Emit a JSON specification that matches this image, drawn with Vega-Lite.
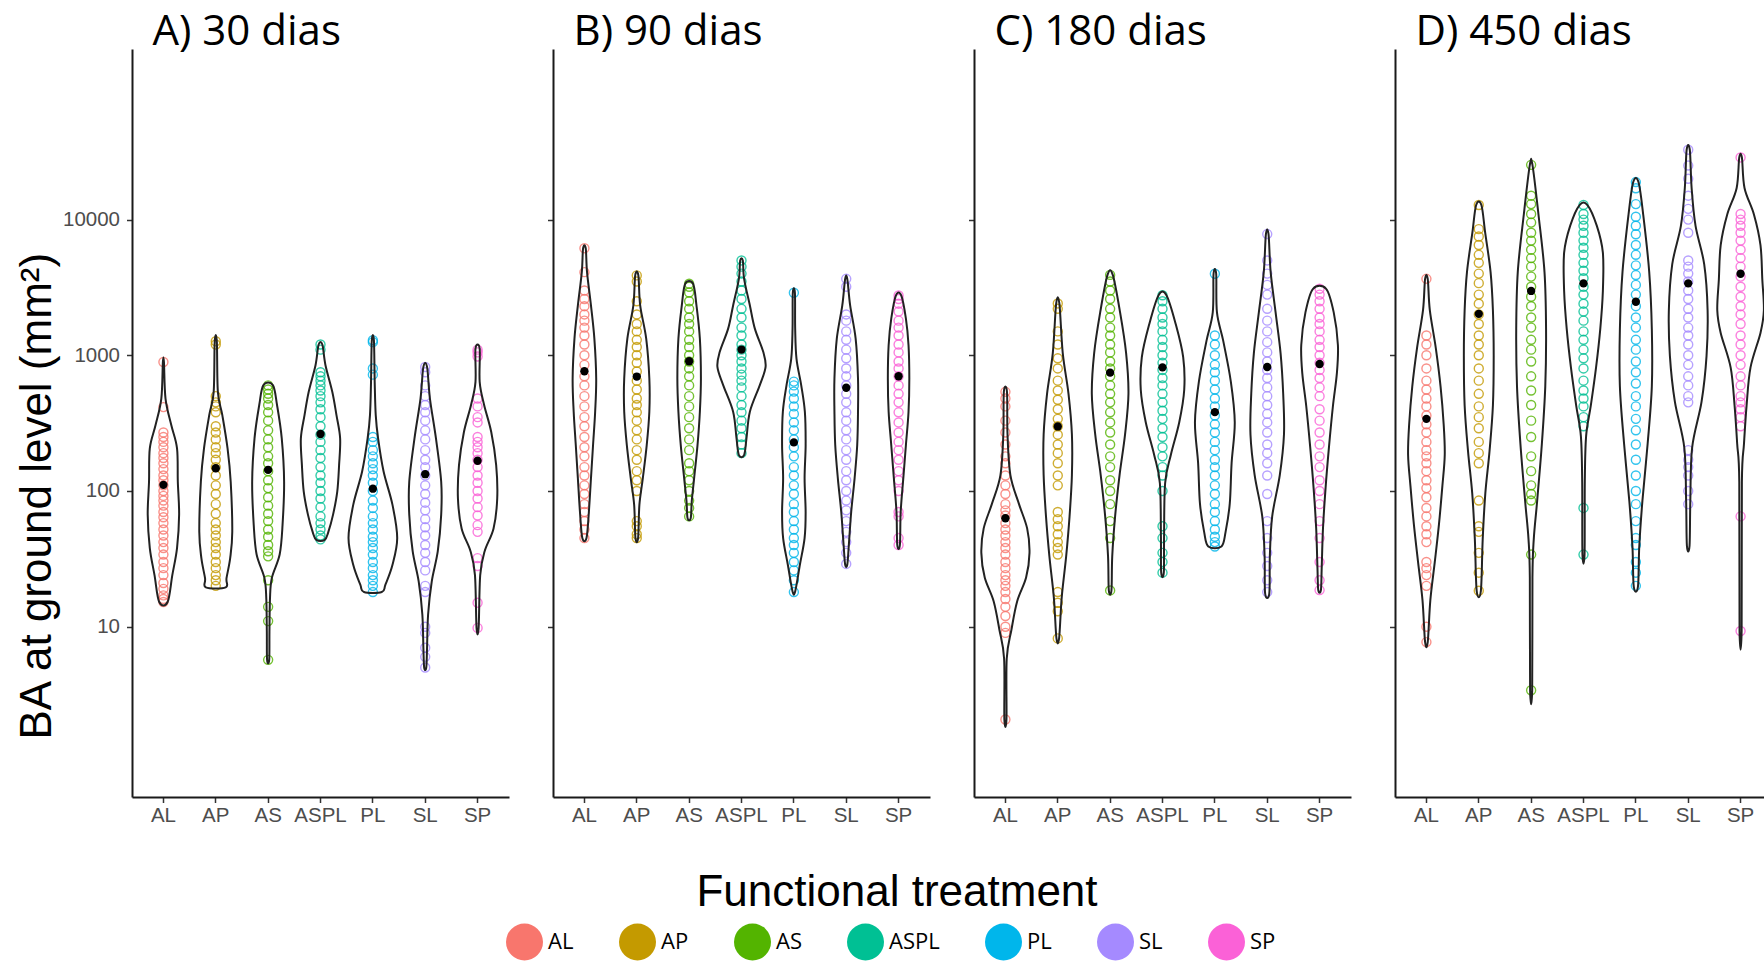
{
"$schema": "https://vega.github.io/schema/vega-lite/v6.json",
"padding": {"left": 15, "top": 11, "right": 0, "bottom": 0},
"bounds": "flush",
"spacing": 44,
"background": "white",
"config": {
  "view": {"stroke": null},
  "axis": {"grid": false, "domainColor": "#1a1a1a", "domainWidth": 2, "tickColor": "#333333", "tickWidth": 1.5, "tickSize": 5.5, "labelFont": "Liberation Sans", "labelFontSize": 20.5, "labelColor": "#4d4d4d", "titleFont": "Liberation Sans", "titleFontSize": 44, "titleFontWeight": "normal", "titleColor": "#000000"}
},
"datasets": {
"mean": [
{"p":"A","g":"AL","v":111},{"p":"A","g":"AP","v":147},{"p":"A","g":"AS","v":143},{"p":"A","g":"ASPL","v":263},{"p":"A","g":"PL","v":104},{"p":"A","g":"SL","v":133},{"p":"A","g":"SP","v":167},
{"p":"B","g":"AL","v":763},{"p":"B","g":"AP","v":697},{"p":"B","g":"AS","v":904},{"p":"B","g":"ASPL","v":1102},{"p":"B","g":"PL","v":228},{"p":"B","g":"SL","v":576},{"p":"B","g":"SP","v":701},
{"p":"C","g":"AL","v":63},{"p":"C","g":"AP","v":299},{"p":"C","g":"AS","v":745},{"p":"C","g":"ASPL","v":815},{"p":"C","g":"PL","v":381},{"p":"C","g":"SL","v":820},{"p":"C","g":"SP","v":862},
{"p":"D","g":"AL","v":340},{"p":"D","g":"AP","v":2020},{"p":"D","g":"AS","v":2980},{"p":"D","g":"ASPL","v":3390},{"p":"D","g":"PL","v":2480},{"p":"D","g":"SL","v":3390},{"p":"D","g":"SP","v":3990}
],
"vio": [
{"p":"A","g":"AL","v":15.2,"w":0.16},{"p":"A","g":"AL","v":24,"w":0.34},{"p":"A","g":"AL","v":38,"w":0.52},{"p":"A","g":"AL","v":67,"w":0.60},{"p":"A","g":"AL","v":117,"w":0.55},{"p":"A","g":"AL","v":206,"w":0.52},{"p":"A","g":"AL","v":306,"w":0.30},{"p":"A","g":"AL","v":480,"w":0.08},{"p":"A","g":"AL","v":893,"w":0.02},
{"p":"A","g":"AL","v":893,"w":-0.02},{"p":"A","g":"AL","v":480,"w":-0.08},{"p":"A","g":"AL","v":306,"w":-0.30},{"p":"A","g":"AL","v":206,"w":-0.52},{"p":"A","g":"AL","v":117,"w":-0.55},{"p":"A","g":"AL","v":67,"w":-0.60},{"p":"A","g":"AL","v":38,"w":-0.52},{"p":"A","g":"AL","v":24,"w":-0.34},{"p":"A","g":"AL","v":15.2,"w":-0.16},
{"p":"A","g":"AP","v":19.5,"w":0.38},{"p":"A","g":"AP","v":22.8,"w":0.41},{"p":"A","g":"AP","v":32,"w":0.55},{"p":"A","g":"AP","v":50,"w":0.63},{"p":"A","g":"AP","v":117,"w":0.57},{"p":"A","g":"AP","v":206,"w":0.45},{"p":"A","g":"AP","v":362,"w":0.25},{"p":"A","g":"AP","v":538,"w":0.08},{"p":"A","g":"AP","v":1268,"w":0.04},
{"p":"A","g":"AP","v":1268,"w":-0.04},{"p":"A","g":"AP","v":538,"w":-0.08},{"p":"A","g":"AP","v":362,"w":-0.25},{"p":"A","g":"AP","v":206,"w":-0.45},{"p":"A","g":"AP","v":117,"w":-0.57},{"p":"A","g":"AP","v":50,"w":-0.63},{"p":"A","g":"AP","v":32,"w":-0.55},{"p":"A","g":"AP","v":22.8,"w":-0.41},{"p":"A","g":"AP","v":19.5,"w":-0.38},
{"p":"A","g":"AS","v":5.7,"w":0.04},{"p":"A","g":"AS","v":9.2,"w":0.05},{"p":"A","g":"AS","v":16,"w":0.07},{"p":"A","g":"AS","v":22.8,"w":0.14},{"p":"A","g":"AS","v":34,"w":0.44},{"p":"A","g":"AS","v":56,"w":0.55},{"p":"A","g":"AS","v":117,"w":0.61},{"p":"A","g":"AS","v":244,"w":0.52},{"p":"A","g":"AS","v":430,"w":0.34},{"p":"A","g":"AS","v":603,"w":0.18},
{"p":"A","g":"AS","v":603,"w":-0.18},{"p":"A","g":"AS","v":430,"w":-0.34},{"p":"A","g":"AS","v":244,"w":-0.52},{"p":"A","g":"AS","v":117,"w":-0.61},{"p":"A","g":"AS","v":56,"w":-0.55},{"p":"A","g":"AS","v":34,"w":-0.44},{"p":"A","g":"AS","v":22.8,"w":-0.14},{"p":"A","g":"AS","v":16,"w":-0.07},{"p":"A","g":"AS","v":9.2,"w":-0.05},{"p":"A","g":"AS","v":5.7,"w":-0.04},
{"p":"A","g":"ASPL","v":43.6,"w":0.16},{"p":"A","g":"ASPL","v":50,"w":0.30},{"p":"A","g":"ASPL","v":67,"w":0.48},{"p":"A","g":"ASPL","v":99,"w":0.64},{"p":"A","g":"ASPL","v":155,"w":0.71},{"p":"A","g":"ASPL","v":244,"w":0.75},{"p":"A","g":"ASPL","v":362,"w":0.61},{"p":"A","g":"ASPL","v":538,"w":0.45},{"p":"A","g":"ASPL","v":845,"w":0.19},{"p":"A","g":"ASPL","v":1200,"w":0.07},
{"p":"A","g":"ASPL","v":1200,"w":-0.07},{"p":"A","g":"ASPL","v":845,"w":-0.19},{"p":"A","g":"ASPL","v":538,"w":-0.45},{"p":"A","g":"ASPL","v":362,"w":-0.61},{"p":"A","g":"ASPL","v":244,"w":-0.75},{"p":"A","g":"ASPL","v":155,"w":-0.71},{"p":"A","g":"ASPL","v":99,"w":-0.64},{"p":"A","g":"ASPL","v":67,"w":-0.48},{"p":"A","g":"ASPL","v":50,"w":-0.30},{"p":"A","g":"ASPL","v":43.6,"w":-0.16},
{"p":"A","g":"PL","v":18,"w":0.34},{"p":"A","g":"PL","v":20.4,"w":0.48},{"p":"A","g":"PL","v":28.6,"w":0.75},{"p":"A","g":"PL","v":45,"w":0.93},{"p":"A","g":"PL","v":79,"w":0.75},{"p":"A","g":"PL","v":139,"w":0.41},{"p":"A","g":"PL","v":244,"w":0.20},{"p":"A","g":"PL","v":362,"w":0.11},{"p":"A","g":"PL","v":637,"w":0.07},{"p":"A","g":"PL","v":1290,"w":0.04},
{"p":"A","g":"PL","v":1290,"w":-0.04},{"p":"A","g":"PL","v":637,"w":-0.07},{"p":"A","g":"PL","v":362,"w":-0.11},{"p":"A","g":"PL","v":244,"w":-0.20},{"p":"A","g":"PL","v":139,"w":-0.41},{"p":"A","g":"PL","v":79,"w":-0.75},{"p":"A","g":"PL","v":45,"w":-0.93},{"p":"A","g":"PL","v":28.6,"w":-0.75},{"p":"A","g":"PL","v":20.4,"w":-0.48},{"p":"A","g":"PL","v":18,"w":-0.34},
{"p":"A","g":"SL","v":5,"w":0.04},{"p":"A","g":"SL","v":7,"w":0.07},{"p":"A","g":"SL","v":12.3,"w":0.11},{"p":"A","g":"SL","v":21.6,"w":0.25},{"p":"A","g":"SL","v":36,"w":0.48},{"p":"A","g":"SL","v":67,"w":0.61},{"p":"A","g":"SL","v":117,"w":0.61},{"p":"A","g":"SL","v":244,"w":0.41},{"p":"A","g":"SL","v":480,"w":0.18},{"p":"A","g":"SL","v":821,"w":0.07},
{"p":"A","g":"SL","v":821,"w":-0.07},{"p":"A","g":"SL","v":480,"w":-0.18},{"p":"A","g":"SL","v":244,"w":-0.41},{"p":"A","g":"SL","v":117,"w":-0.61},{"p":"A","g":"SL","v":67,"w":-0.61},{"p":"A","g":"SL","v":36,"w":-0.48},{"p":"A","g":"SL","v":21.6,"w":-0.25},{"p":"A","g":"SL","v":12.3,"w":-0.11},{"p":"A","g":"SL","v":7,"w":-0.07},{"p":"A","g":"SL","v":5,"w":-0.04},
{"p":"A","g":"SP","v":9.8,"w":0.04},{"p":"A","g":"SP","v":24,"w":0.10},{"p":"A","g":"SP","v":36,"w":0.27},{"p":"A","g":"SP","v":53,"w":0.61},{"p":"A","g":"SP","v":88,"w":0.75},{"p":"A","g":"SP","v":155,"w":0.71},{"p":"A","g":"SP","v":273,"w":0.52},{"p":"A","g":"SP","v":430,"w":0.25},{"p":"A","g":"SP","v":637,"w":0.08},{"p":"A","g":"SP","v":1120,"w":0.08},
{"p":"A","g":"SP","v":1120,"w":-0.08},{"p":"A","g":"SP","v":637,"w":-0.08},{"p":"A","g":"SP","v":430,"w":-0.25},{"p":"A","g":"SP","v":273,"w":-0.52},{"p":"A","g":"SP","v":155,"w":-0.71},{"p":"A","g":"SP","v":88,"w":-0.75},{"p":"A","g":"SP","v":53,"w":-0.61},{"p":"A","g":"SP","v":36,"w":-0.27},{"p":"A","g":"SP","v":24,"w":-0.10},{"p":"A","g":"SP","v":9.8,"w":-0.04},

{"p":"B","g":"AL","v":45,"w":0.08},{"p":"B","g":"AL","v":70,"w":0.17},{"p":"B","g":"AL","v":124,"w":0.25},{"p":"B","g":"AL","v":218,"w":0.33},{"p":"B","g":"AL","v":384,"w":0.41},{"p":"B","g":"AL","v":675,"w":0.45},{"p":"B","g":"AL","v":1326,"w":0.38},{"p":"B","g":"AL","v":2330,"w":0.25},{"p":"B","g":"AL","v":4100,"w":0.10},{"p":"B","g":"AL","v":6150,"w":0.05},
{"p":"B","g":"AL","v":6150,"w":-0.05},{"p":"B","g":"AL","v":4100,"w":-0.10},{"p":"B","g":"AL","v":2330,"w":-0.25},{"p":"B","g":"AL","v":1326,"w":-0.38},{"p":"B","g":"AL","v":675,"w":-0.45},{"p":"B","g":"AL","v":384,"w":-0.41},{"p":"B","g":"AL","v":218,"w":-0.33},{"p":"B","g":"AL","v":124,"w":-0.25},{"p":"B","g":"AL","v":70,"w":-0.17},{"p":"B","g":"AL","v":45,"w":-0.08},
{"p":"B","g":"AP","v":45,"w":0.05},{"p":"B","g":"AP","v":79,"w":0.10},{"p":"B","g":"AP","v":124,"w":0.23},{"p":"B","g":"AP","v":218,"w":0.38},{"p":"B","g":"AP","v":384,"w":0.48},{"p":"B","g":"AP","v":675,"w":0.48},{"p":"B","g":"AP","v":1326,"w":0.36},{"p":"B","g":"AP","v":2330,"w":0.13},{"p":"B","g":"AP","v":3880,"w":0.06},
{"p":"B","g":"AP","v":3880,"w":-0.06},{"p":"B","g":"AP","v":2330,"w":-0.13},{"p":"B","g":"AP","v":1326,"w":-0.36},{"p":"B","g":"AP","v":675,"w":-0.48},{"p":"B","g":"AP","v":384,"w":-0.48},{"p":"B","g":"AP","v":218,"w":-0.38},{"p":"B","g":"AP","v":124,"w":-0.23},{"p":"B","g":"AP","v":79,"w":-0.10},{"p":"B","g":"AP","v":45,"w":-0.05},
{"p":"B","g":"AS","v":63,"w":0.06},{"p":"B","g":"AS","v":84,"w":0.10},{"p":"B","g":"AS","v":124,"w":0.19},{"p":"B","g":"AS","v":218,"w":0.32},{"p":"B","g":"AS","v":384,"w":0.41},{"p":"B","g":"AS","v":675,"w":0.45},{"p":"B","g":"AS","v":1326,"w":0.41},{"p":"B","g":"AS","v":2330,"w":0.28},{"p":"B","g":"AS","v":3370,"w":0.15},
{"p":"B","g":"AS","v":3370,"w":-0.15},{"p":"B","g":"AS","v":2330,"w":-0.28},{"p":"B","g":"AS","v":1326,"w":-0.41},{"p":"B","g":"AS","v":675,"w":-0.45},{"p":"B","g":"AS","v":384,"w":-0.41},{"p":"B","g":"AS","v":218,"w":-0.32},{"p":"B","g":"AS","v":124,"w":-0.19},{"p":"B","g":"AS","v":84,"w":-0.10},{"p":"B","g":"AS","v":63,"w":-0.06},
{"p":"B","g":"ASPL","v":184,"w":0.10},{"p":"B","g":"ASPL","v":244,"w":0.19},{"p":"B","g":"ASPL","v":384,"w":0.32},{"p":"B","g":"ASPL","v":603,"w":0.70},{"p":"B","g":"ASPL","v":821,"w":0.92},{"p":"B","g":"ASPL","v":1060,"w":0.83},{"p":"B","g":"ASPL","v":1572,"w":0.51},{"p":"B","g":"ASPL","v":2330,"w":0.32},{"p":"B","g":"ASPL","v":3660,"w":0.10},{"p":"B","g":"ASPL","v":5000,"w":0.05},
{"p":"B","g":"ASPL","v":5000,"w":-0.05},{"p":"B","g":"ASPL","v":3660,"w":-0.10},{"p":"B","g":"ASPL","v":2330,"w":-0.32},{"p":"B","g":"ASPL","v":1572,"w":-0.51},{"p":"B","g":"ASPL","v":1060,"w":-0.83},{"p":"B","g":"ASPL","v":821,"w":-0.92},{"p":"B","g":"ASPL","v":603,"w":-0.70},{"p":"B","g":"ASPL","v":384,"w":-0.32},{"p":"B","g":"ASPL","v":244,"w":-0.19},{"p":"B","g":"ASPL","v":184,"w":-0.10},
{"p":"B","g":"PL","v":18.2,"w":0.05},{"p":"B","g":"PL","v":28.6,"w":0.23},{"p":"B","g":"PL","v":45,"w":0.41},{"p":"B","g":"PL","v":70,"w":0.45},{"p":"B","g":"PL","v":124,"w":0.41},{"p":"B","g":"PL","v":218,"w":0.45},{"p":"B","g":"PL","v":384,"w":0.42},{"p":"B","g":"PL","v":603,"w":0.28},{"p":"B","g":"PL","v":945,"w":0.10},{"p":"B","g":"PL","v":1572,"w":0.05},{"p":"B","g":"PL","v":2890,"w":0.04},
{"p":"B","g":"PL","v":2890,"w":-0.04},{"p":"B","g":"PL","v":1572,"w":-0.05},{"p":"B","g":"PL","v":945,"w":-0.10},{"p":"B","g":"PL","v":603,"w":-0.28},{"p":"B","g":"PL","v":384,"w":-0.42},{"p":"B","g":"PL","v":218,"w":-0.45},{"p":"B","g":"PL","v":124,"w":-0.41},{"p":"B","g":"PL","v":70,"w":-0.45},{"p":"B","g":"PL","v":45,"w":-0.41},{"p":"B","g":"PL","v":28.6,"w":-0.23},{"p":"B","g":"PL","v":18.2,"w":-0.05},
{"p":"B","g":"SL","v":28.6,"w":0.04},{"p":"B","g":"SL","v":40,"w":0.10},{"p":"B","g":"SL","v":70,"w":0.19},{"p":"B","g":"SL","v":124,"w":0.32},{"p":"B","g":"SL","v":218,"w":0.42},{"p":"B","g":"SL","v":384,"w":0.45},{"p":"B","g":"SL","v":675,"w":0.45},{"p":"B","g":"SL","v":1326,"w":0.36},{"p":"B","g":"SL","v":2330,"w":0.15},{"p":"B","g":"SL","v":3660,"w":0.04},
{"p":"B","g":"SL","v":3660,"w":-0.04},{"p":"B","g":"SL","v":2330,"w":-0.15},{"p":"B","g":"SL","v":1326,"w":-0.36},{"p":"B","g":"SL","v":675,"w":-0.45},{"p":"B","g":"SL","v":384,"w":-0.45},{"p":"B","g":"SL","v":218,"w":-0.42},{"p":"B","g":"SL","v":124,"w":-0.32},{"p":"B","g":"SL","v":70,"w":-0.19},{"p":"B","g":"SL","v":40,"w":-0.10},{"p":"B","g":"SL","v":28.6,"w":-0.04},
{"p":"B","g":"SP","v":40,"w":0.05},{"p":"B","g":"SP","v":70,"w":0.08},{"p":"B","g":"SP","v":124,"w":0.18},{"p":"B","g":"SP","v":218,"w":0.28},{"p":"B","g":"SP","v":384,"w":0.38},{"p":"B","g":"SP","v":675,"w":0.41},{"p":"B","g":"SP","v":1186,"w":0.38},{"p":"B","g":"SP","v":1862,"w":0.28},{"p":"B","g":"SP","v":2760,"w":0.10},
{"p":"B","g":"SP","v":2760,"w":-0.10},{"p":"B","g":"SP","v":1862,"w":-0.28},{"p":"B","g":"SP","v":1186,"w":-0.38},{"p":"B","g":"SP","v":675,"w":-0.41},{"p":"B","g":"SP","v":384,"w":-0.38},{"p":"B","g":"SP","v":218,"w":-0.28},{"p":"B","g":"SP","v":124,"w":-0.18},{"p":"B","g":"SP","v":70,"w":-0.08},{"p":"B","g":"SP","v":40,"w":-0.05},

{"p":"C","g":"AL","v":2.07,"w":0.04},{"p":"C","g":"AL","v":5.8,"w":0.05},{"p":"C","g":"AL","v":9.5,"w":0.23},{"p":"C","g":"AL","v":15.4,"w":0.45},{"p":"C","g":"AL","v":23,"w":0.79},{"p":"C","g":"AL","v":35,"w":0.92},{"p":"C","g":"AL","v":53,"w":0.83},{"p":"C","g":"AL","v":81,"w":0.51},{"p":"C","g":"AL","v":131,"w":0.19},{"p":"C","g":"AL","v":261,"w":0.08},{"p":"C","g":"AL","v":538,"w":0.06},
{"p":"C","g":"AL","v":538,"w":-0.06},{"p":"C","g":"AL","v":261,"w":-0.08},{"p":"C","g":"AL","v":131,"w":-0.19},{"p":"C","g":"AL","v":81,"w":-0.51},{"p":"C","g":"AL","v":53,"w":-0.83},{"p":"C","g":"AL","v":35,"w":-0.92},{"p":"C","g":"AL","v":23,"w":-0.79},{"p":"C","g":"AL","v":15.4,"w":-0.45},{"p":"C","g":"AL","v":9.5,"w":-0.23},{"p":"C","g":"AL","v":5.8,"w":-0.05},{"p":"C","g":"AL","v":2.07,"w":-0.04},
{"p":"C","g":"AP","v":8.2,"w":0.05},{"p":"C","g":"AP","v":16.4,"w":0.15},{"p":"C","g":"AP","v":33,"w":0.32},{"p":"C","g":"AP","v":65,"w":0.45},{"p":"C","g":"AP","v":131,"w":0.54},{"p":"C","g":"AP","v":261,"w":0.54},{"p":"C","g":"AP","v":520,"w":0.41},{"p":"C","g":"AP","v":1038,"w":0.19},{"p":"C","g":"AP","v":2410,"w":0.06},
{"p":"C","g":"AP","v":2410,"w":-0.06},{"p":"C","g":"AP","v":1038,"w":-0.19},{"p":"C","g":"AP","v":520,"w":-0.41},{"p":"C","g":"AP","v":261,"w":-0.54},{"p":"C","g":"AP","v":131,"w":-0.54},{"p":"C","g":"AP","v":65,"w":-0.45},{"p":"C","g":"AP","v":33,"w":-0.32},{"p":"C","g":"AP","v":16.4,"w":-0.15},{"p":"C","g":"AP","v":8.2,"w":-0.05},
{"p":"C","g":"AS","v":18.5,"w":0.05},{"p":"C","g":"AS","v":33,"w":0.08},{"p":"C","g":"AS","v":65,"w":0.19},{"p":"C","g":"AS","v":131,"w":0.36},{"p":"C","g":"AS","v":261,"w":0.57},{"p":"C","g":"AS","v":520,"w":0.70},{"p":"C","g":"AS","v":1038,"w":0.61},{"p":"C","g":"AS","v":2070,"w":0.38},{"p":"C","g":"AS","v":3910,"w":0.10},
{"p":"C","g":"AS","v":3910,"w":-0.10},{"p":"C","g":"AS","v":2070,"w":-0.38},{"p":"C","g":"AS","v":1038,"w":-0.61},{"p":"C","g":"AS","v":520,"w":-0.70},{"p":"C","g":"AS","v":261,"w":-0.57},{"p":"C","g":"AS","v":131,"w":-0.36},{"p":"C","g":"AS","v":65,"w":-0.19},{"p":"C","g":"AS","v":33,"w":-0.08},{"p":"C","g":"AS","v":18.5,"w":-0.05},
{"p":"C","g":"ASPL","v":25,"w":0.05},{"p":"C","g":"ASPL","v":46,"w":0.06},{"p":"C","g":"ASPL","v":114,"w":0.10},{"p":"C","g":"ASPL","v":185,"w":0.32},{"p":"C","g":"ASPL","v":321,"w":0.64},{"p":"C","g":"ASPL","v":557,"w":0.83},{"p":"C","g":"ASPL","v":969,"w":0.79},{"p":"C","g":"ASPL","v":1683,"w":0.51},{"p":"C","g":"ASPL","v":2770,"w":0.15},
{"p":"C","g":"ASPL","v":2770,"w":-0.15},{"p":"C","g":"ASPL","v":1683,"w":-0.51},{"p":"C","g":"ASPL","v":969,"w":-0.79},{"p":"C","g":"ASPL","v":557,"w":-0.83},{"p":"C","g":"ASPL","v":321,"w":-0.64},{"p":"C","g":"ASPL","v":185,"w":-0.32},{"p":"C","g":"ASPL","v":114,"w":-0.10},{"p":"C","g":"ASPL","v":46,"w":-0.06},{"p":"C","g":"ASPL","v":25,"w":-0.05},
{"p":"C","g":"PL","v":39,"w":0.25},{"p":"C","g":"PL","v":50,"w":0.41},{"p":"C","g":"PL","v":81,"w":0.57},{"p":"C","g":"PL","v":161,"w":0.64},{"p":"C","g":"PL","v":321,"w":0.76},{"p":"C","g":"PL","v":640,"w":0.61},{"p":"C","g":"PL","v":1276,"w":0.32},{"p":"C","g":"PL","v":2070,"w":0.08},{"p":"C","g":"PL","v":3990,"w":0.05},
{"p":"C","g":"PL","v":3990,"w":-0.05},{"p":"C","g":"PL","v":2070,"w":-0.08},{"p":"C","g":"PL","v":1276,"w":-0.32},{"p":"C","g":"PL","v":640,"w":-0.61},{"p":"C","g":"PL","v":321,"w":-0.76},{"p":"C","g":"PL","v":161,"w":-0.64},{"p":"C","g":"PL","v":81,"w":-0.57},{"p":"C","g":"PL","v":50,"w":-0.41},{"p":"C","g":"PL","v":39,"w":-0.25},
{"p":"C","g":"SL","v":17.6,"w":0.08},{"p":"C","g":"SL","v":33,"w":0.10},{"p":"C","g":"SL","v":65,"w":0.19},{"p":"C","g":"SL","v":131,"w":0.48},{"p":"C","g":"SL","v":261,"w":0.64},{"p":"C","g":"SL","v":520,"w":0.61},{"p":"C","g":"SL","v":1038,"w":0.51},{"p":"C","g":"SL","v":2070,"w":0.32},{"p":"C","g":"SL","v":4140,"w":0.13},{"p":"C","g":"SL","v":7820,"w":0.05},
{"p":"C","g":"SL","v":7820,"w":-0.05},{"p":"C","g":"SL","v":4140,"w":-0.13},{"p":"C","g":"SL","v":2070,"w":-0.32},{"p":"C","g":"SL","v":1038,"w":-0.51},{"p":"C","g":"SL","v":520,"w":-0.61},{"p":"C","g":"SL","v":261,"w":-0.64},{"p":"C","g":"SL","v":131,"w":-0.48},{"p":"C","g":"SL","v":65,"w":-0.19},{"p":"C","g":"SL","v":33,"w":-0.10},{"p":"C","g":"SL","v":17.6,"w":-0.08},
{"p":"C","g":"SP","v":18.6,"w":0.05},{"p":"C","g":"SP","v":26.7,"w":0.08},{"p":"C","g":"SP","v":53,"w":0.13},{"p":"C","g":"SP","v":106,"w":0.23},{"p":"C","g":"SP","v":212,"w":0.36},{"p":"C","g":"SP","v":423,"w":0.51},{"p":"C","g":"SP","v":735,"w":0.66},{"p":"C","g":"SP","v":1191,"w":0.70},{"p":"C","g":"SP","v":2070,"w":0.54},{"p":"C","g":"SP","v":3090,"w":0.25},
{"p":"C","g":"SP","v":3090,"w":-0.25},{"p":"C","g":"SP","v":2070,"w":-0.54},{"p":"C","g":"SP","v":1191,"w":-0.70},{"p":"C","g":"SP","v":735,"w":-0.66},{"p":"C","g":"SP","v":423,"w":-0.51},{"p":"C","g":"SP","v":212,"w":-0.36},{"p":"C","g":"SP","v":106,"w":-0.23},{"p":"C","g":"SP","v":53,"w":-0.13},{"p":"C","g":"SP","v":26.7,"w":-0.08},{"p":"C","g":"SP","v":18.6,"w":-0.05},

{"p":"D","g":"AL","v":7.7,"w":0.05},{"p":"D","g":"AL","v":15.7,"w":0.15},{"p":"D","g":"AL","v":30,"w":0.32},{"p":"D","g":"AL","v":57,"w":0.48},{"p":"D","g":"AL","v":109,"w":0.61},{"p":"D","g":"AL","v":184,"w":0.70},{"p":"D","g":"AL","v":308,"w":0.66},{"p":"D","g":"AL","v":590,"w":0.54},{"p":"D","g":"AL","v":1126,"w":0.36},{"p":"D","g":"AL","v":2150,"w":0.13},{"p":"D","g":"AL","v":3660,"w":0.05},
{"p":"D","g":"AL","v":3660,"w":-0.05},{"p":"D","g":"AL","v":2150,"w":-0.13},{"p":"D","g":"AL","v":1126,"w":-0.36},{"p":"D","g":"AL","v":590,"w":-0.54},{"p":"D","g":"AL","v":308,"w":-0.66},{"p":"D","g":"AL","v":184,"w":-0.70},{"p":"D","g":"AL","v":109,"w":-0.61},{"p":"D","g":"AL","v":57,"w":-0.48},{"p":"D","g":"AL","v":30,"w":-0.32},{"p":"D","g":"AL","v":15.7,"w":-0.15},{"p":"D","g":"AL","v":7.7,"w":-0.05},
{"p":"D","g":"AP","v":18.4,"w":0.08},{"p":"D","g":"AP","v":44,"w":0.15},{"p":"D","g":"AP","v":96,"w":0.25},{"p":"D","g":"AP","v":196,"w":0.41},{"p":"D","g":"AP","v":427,"w":0.54},{"p":"D","g":"AP","v":991,"w":0.57},{"p":"D","g":"AP","v":2150,"w":0.54},{"p":"D","g":"AP","v":4120,"w":0.45},{"p":"D","g":"AP","v":7870,"w":0.25},{"p":"D","g":"AP","v":12800,"w":0.10},
{"p":"D","g":"AP","v":12800,"w":-0.10},{"p":"D","g":"AP","v":7870,"w":-0.25},{"p":"D","g":"AP","v":4120,"w":-0.45},{"p":"D","g":"AP","v":2150,"w":-0.54},{"p":"D","g":"AP","v":991,"w":-0.57},{"p":"D","g":"AP","v":427,"w":-0.54},{"p":"D","g":"AP","v":196,"w":-0.41},{"p":"D","g":"AP","v":96,"w":-0.25},{"p":"D","g":"AP","v":44,"w":-0.15},{"p":"D","g":"AP","v":18.4,"w":-0.08},
{"p":"D","g":"AS","v":3.4,"w":0.04},{"p":"D","g":"AS","v":23,"w":0.05},{"p":"D","g":"AS","v":44,"w":0.10},{"p":"D","g":"AS","v":84.5,"w":0.23},{"p":"D","g":"AS","v":223,"w":0.41},{"p":"D","g":"AS","v":590,"w":0.54},{"p":"D","g":"AS","v":1560,"w":0.57},{"p":"D","g":"AS","v":4120,"w":0.51},{"p":"D","g":"AS","v":10900,"w":0.28},{"p":"D","g":"AS","v":25300,"w":0.05},
{"p":"D","g":"AS","v":25300,"w":-0.05},{"p":"D","g":"AS","v":10900,"w":-0.28},{"p":"D","g":"AS","v":4120,"w":-0.51},{"p":"D","g":"AS","v":1560,"w":-0.57},{"p":"D","g":"AS","v":590,"w":-0.54},{"p":"D","g":"AS","v":223,"w":-0.41},{"p":"D","g":"AS","v":84.5,"w":-0.23},{"p":"D","g":"AS","v":44,"w":-0.10},{"p":"D","g":"AS","v":23,"w":-0.05},{"p":"D","g":"AS","v":3.4,"w":-0.04},
{"p":"D","g":"ASPL","v":34,"w":0.04},{"p":"D","g":"ASPL","v":117,"w":0.05},{"p":"D","g":"ASPL","v":254,"w":0.10},{"p":"D","g":"ASPL","v":427,"w":0.28},{"p":"D","g":"ASPL","v":815,"w":0.48},{"p":"D","g":"ASPL","v":1560,"w":0.64},{"p":"D","g":"ASPL","v":2980,"w":0.74},{"p":"D","g":"ASPL","v":5700,"w":0.74},{"p":"D","g":"ASPL","v":8980,"w":0.51},{"p":"D","g":"ASPL","v":12800,"w":0.15},
{"p":"D","g":"ASPL","v":12800,"w":-0.15},{"p":"D","g":"ASPL","v":8980,"w":-0.51},{"p":"D","g":"ASPL","v":5700,"w":-0.74},{"p":"D","g":"ASPL","v":2980,"w":-0.74},{"p":"D","g":"ASPL","v":1560,"w":-0.64},{"p":"D","g":"ASPL","v":815,"w":-0.48},{"p":"D","g":"ASPL","v":427,"w":-0.28},{"p":"D","g":"ASPL","v":254,"w":-0.10},{"p":"D","g":"ASPL","v":117,"w":-0.05},{"p":"D","g":"ASPL","v":34,"w":-0.04},
{"p":"D","g":"PL","v":19.7,"w":0.08},{"p":"D","g":"PL","v":38.8,"w":0.13},{"p":"D","g":"PL","v":84.5,"w":0.25},{"p":"D","g":"PL","v":223,"w":0.45},{"p":"D","g":"PL","v":590,"w":0.61},{"p":"D","g":"PL","v":1560,"w":0.61},{"p":"D","g":"PL","v":4120,"w":0.51},{"p":"D","g":"PL","v":10900,"w":0.28},{"p":"D","g":"PL","v":18900,"w":0.10},
{"p":"D","g":"PL","v":18900,"w":-0.10},{"p":"D","g":"PL","v":10900,"w":-0.28},{"p":"D","g":"PL","v":4120,"w":-0.51},{"p":"D","g":"PL","v":1560,"w":-0.61},{"p":"D","g":"PL","v":590,"w":-0.61},{"p":"D","g":"PL","v":223,"w":-0.45},{"p":"D","g":"PL","v":84.5,"w":-0.25},{"p":"D","g":"PL","v":38.8,"w":-0.13},{"p":"D","g":"PL","v":19.7,"w":-0.08},
{"p":"D","g":"SL","v":39.4,"w":0.05},{"p":"D","g":"SL","v":84.5,"w":0.08},{"p":"D","g":"SL","v":209,"w":0.15},{"p":"D","g":"SL","v":455,"w":0.51},{"p":"D","g":"SL","v":991,"w":0.70},{"p":"D","g":"SL","v":2150,"w":0.74},{"p":"D","g":"SL","v":4690,"w":0.61},{"p":"D","g":"SL","v":8980,"w":0.28},{"p":"D","g":"SL","v":17100,"w":0.13},{"p":"D","g":"SL","v":32700,"w":0.06},
{"p":"D","g":"SL","v":32700,"w":-0.06},{"p":"D","g":"SL","v":17100,"w":-0.13},{"p":"D","g":"SL","v":8980,"w":-0.28},{"p":"D","g":"SL","v":4690,"w":-0.61},{"p":"D","g":"SL","v":2150,"w":-0.74},{"p":"D","g":"SL","v":991,"w":-0.70},{"p":"D","g":"SL","v":455,"w":-0.51},{"p":"D","g":"SL","v":209,"w":-0.15},{"p":"D","g":"SL","v":84.5,"w":-0.08},{"p":"D","g":"SL","v":39.4,"w":-0.05},
{"p":"D","g":"SP","v":9.3,"w":0.04},{"p":"D","g":"SP","v":117,"w":0.05},{"p":"D","g":"SP","v":223,"w":0.13},{"p":"D","g":"SP","v":427,"w":0.23},{"p":"D","g":"SP","v":815,"w":0.38},{"p":"D","g":"SP","v":1462,"w":0.76},{"p":"D","g":"SP","v":2150,"w":0.89},{"p":"D","g":"SP","v":3620,"w":0.83},{"p":"D","g":"SP","v":6480,"w":0.76},{"p":"D","g":"SP","v":10900,"w":0.51},{"p":"D","g":"SP","v":17100,"w":0.15},{"p":"D","g":"SP","v":28700,"w":0.05},
{"p":"D","g":"SP","v":28700,"w":-0.05},{"p":"D","g":"SP","v":17100,"w":-0.15},{"p":"D","g":"SP","v":10900,"w":-0.51},{"p":"D","g":"SP","v":6480,"w":-0.76},{"p":"D","g":"SP","v":3620,"w":-0.83},{"p":"D","g":"SP","v":2150,"w":-0.89},{"p":"D","g":"SP","v":1462,"w":-0.76},{"p":"D","g":"SP","v":815,"w":-0.38},{"p":"D","g":"SP","v":427,"w":-0.23},{"p":"D","g":"SP","v":223,"w":-0.13},{"p":"D","g":"SP","v":117,"w":-0.05},{"p":"D","g":"SP","v":9.3,"w":-0.04}
],
"pts": [
{"p":"A","g":"AL","v":893},{"p":"A","g":"AL","v":415},{"p":"A","g":"AL","v":270},{"p":"A","g":"AL","v":250},{"p":"A","g":"AL","v":230},{"p":"A","g":"AL","v":210},{"p":"A","g":"AL","v":190},{"p":"A","g":"AL","v":175},{"p":"A","g":"AL","v":160},{"p":"A","g":"AL","v":145},{"p":"A","g":"AL","v":130},{"p":"A","g":"AL","v":120},{"p":"A","g":"AL","v":110},{"p":"A","g":"AL","v":100},{"p":"A","g":"AL","v":92},{"p":"A","g":"AL","v":85},{"p":"A","g":"AL","v":78},{"p":"A","g":"AL","v":70},{"p":"A","g":"AL","v":64},{"p":"A","g":"AL","v":58},{"p":"A","g":"AL","v":52},{"p":"A","g":"AL","v":47},{"p":"A","g":"AL","v":42},{"p":"A","g":"AL","v":38},{"p":"A","g":"AL","v":34},{"p":"A","g":"AL","v":30},{"p":"A","g":"AL","v":27},{"p":"A","g":"AL","v":24},{"p":"A","g":"AL","v":21},{"p":"A","g":"AL","v":19},{"p":"A","g":"AL","v":17},{"p":"A","g":"AL","v":16},{"p":"A","g":"AL","v":15.2},
{"p":"A","g":"AP","v":1268},{"p":"A","g":"AP","v":1200},{"p":"A","g":"AP","v":500},{"p":"A","g":"AP","v":450},{"p":"A","g":"AP","v":420},{"p":"A","g":"AP","v":380},{"p":"A","g":"AP","v":300},{"p":"A","g":"AP","v":270},{"p":"A","g":"AP","v":240},{"p":"A","g":"AP","v":210},{"p":"A","g":"AP","v":190},{"p":"A","g":"AP","v":170},{"p":"A","g":"AP","v":150},{"p":"A","g":"AP","v":130},{"p":"A","g":"AP","v":110},{"p":"A","g":"AP","v":95},{"p":"A","g":"AP","v":80},{"p":"A","g":"AP","v":68},{"p":"A","g":"AP","v":58},{"p":"A","g":"AP","v":52},{"p":"A","g":"AP","v":47},{"p":"A","g":"AP","v":42},{"p":"A","g":"AP","v":38},{"p":"A","g":"AP","v":34},{"p":"A","g":"AP","v":30},{"p":"A","g":"AP","v":27},{"p":"A","g":"AP","v":24},{"p":"A","g":"AP","v":22},{"p":"A","g":"AP","v":20},
{"p":"A","g":"AS","v":600},{"p":"A","g":"AS","v":560},{"p":"A","g":"AS","v":520},{"p":"A","g":"AS","v":480},{"p":"A","g":"AS","v":430},{"p":"A","g":"AS","v":380},{"p":"A","g":"AS","v":330},{"p":"A","g":"AS","v":280},{"p":"A","g":"AS","v":240},{"p":"A","g":"AS","v":210},{"p":"A","g":"AS","v":180},{"p":"A","g":"AS","v":160},{"p":"A","g":"AS","v":140},{"p":"A","g":"AS","v":120},{"p":"A","g":"AS","v":105},{"p":"A","g":"AS","v":90},{"p":"A","g":"AS","v":78},{"p":"A","g":"AS","v":68},{"p":"A","g":"AS","v":60},{"p":"A","g":"AS","v":52},{"p":"A","g":"AS","v":46},{"p":"A","g":"AS","v":40},{"p":"A","g":"AS","v":36},{"p":"A","g":"AS","v":33},{"p":"A","g":"AS","v":22},{"p":"A","g":"AS","v":14},{"p":"A","g":"AS","v":11},{"p":"A","g":"AS","v":5.7},
{"p":"A","g":"ASPL","v":1200},{"p":"A","g":"ASPL","v":1100},{"p":"A","g":"ASPL","v":750},{"p":"A","g":"ASPL","v":700},{"p":"A","g":"ASPL","v":650},{"p":"A","g":"ASPL","v":600},{"p":"A","g":"ASPL","v":550},{"p":"A","g":"ASPL","v":500},{"p":"A","g":"ASPL","v":450},{"p":"A","g":"ASPL","v":400},{"p":"A","g":"ASPL","v":350},{"p":"A","g":"ASPL","v":300},{"p":"A","g":"ASPL","v":260},{"p":"A","g":"ASPL","v":230},{"p":"A","g":"ASPL","v":200},{"p":"A","g":"ASPL","v":175},{"p":"A","g":"ASPL","v":150},{"p":"A","g":"ASPL","v":130},{"p":"A","g":"ASPL","v":115},{"p":"A","g":"ASPL","v":100},{"p":"A","g":"ASPL","v":88},{"p":"A","g":"ASPL","v":76},{"p":"A","g":"ASPL","v":65},{"p":"A","g":"ASPL","v":58},{"p":"A","g":"ASPL","v":52},{"p":"A","g":"ASPL","v":47},{"p":"A","g":"ASPL","v":44},
{"p":"A","g":"PL","v":1290},{"p":"A","g":"PL","v":1250},{"p":"A","g":"PL","v":800},{"p":"A","g":"PL","v":720},{"p":"A","g":"PL","v":250},{"p":"A","g":"PL","v":230},{"p":"A","g":"PL","v":200},{"p":"A","g":"PL","v":180},{"p":"A","g":"PL","v":160},{"p":"A","g":"PL","v":145},{"p":"A","g":"PL","v":130},{"p":"A","g":"PL","v":115},{"p":"A","g":"PL","v":100},{"p":"A","g":"PL","v":85},{"p":"A","g":"PL","v":75},{"p":"A","g":"PL","v":65},{"p":"A","g":"PL","v":58},{"p":"A","g":"PL","v":52},{"p":"A","g":"PL","v":46},{"p":"A","g":"PL","v":42},{"p":"A","g":"PL","v":38},{"p":"A","g":"PL","v":34},{"p":"A","g":"PL","v":30},{"p":"A","g":"PL","v":27},{"p":"A","g":"PL","v":24},{"p":"A","g":"PL","v":22},{"p":"A","g":"PL","v":20},{"p":"A","g":"PL","v":18},
{"p":"A","g":"SL","v":820},{"p":"A","g":"SL","v":750},{"p":"A","g":"SL","v":600},{"p":"A","g":"SL","v":500},{"p":"A","g":"SL","v":430},{"p":"A","g":"SL","v":380},{"p":"A","g":"SL","v":330},{"p":"A","g":"SL","v":280},{"p":"A","g":"SL","v":240},{"p":"A","g":"SL","v":200},{"p":"A","g":"SL","v":170},{"p":"A","g":"SL","v":150},{"p":"A","g":"SL","v":130},{"p":"A","g":"SL","v":110},{"p":"A","g":"SL","v":95},{"p":"A","g":"SL","v":82},{"p":"A","g":"SL","v":72},{"p":"A","g":"SL","v":62},{"p":"A","g":"SL","v":54},{"p":"A","g":"SL","v":47},{"p":"A","g":"SL","v":40},{"p":"A","g":"SL","v":35},{"p":"A","g":"SL","v":30},{"p":"A","g":"SL","v":26},{"p":"A","g":"SL","v":20},{"p":"A","g":"SL","v":18},{"p":"A","g":"SL","v":10},{"p":"A","g":"SL","v":9},{"p":"A","g":"SL","v":7},{"p":"A","g":"SL","v":6},{"p":"A","g":"SL","v":5},
{"p":"A","g":"SP","v":1100},{"p":"A","g":"SP","v":1050},{"p":"A","g":"SP","v":980},{"p":"A","g":"SP","v":480},{"p":"A","g":"SP","v":420},{"p":"A","g":"SP","v":350},{"p":"A","g":"SP","v":320},{"p":"A","g":"SP","v":250},{"p":"A","g":"SP","v":230},{"p":"A","g":"SP","v":210},{"p":"A","g":"SP","v":190},{"p":"A","g":"SP","v":170},{"p":"A","g":"SP","v":150},{"p":"A","g":"SP","v":130},{"p":"A","g":"SP","v":115},{"p":"A","g":"SP","v":100},{"p":"A","g":"SP","v":88},{"p":"A","g":"SP","v":76},{"p":"A","g":"SP","v":66},{"p":"A","g":"SP","v":56},{"p":"A","g":"SP","v":50},{"p":"A","g":"SP","v":32},{"p":"A","g":"SP","v":28},{"p":"A","g":"SP","v":15},{"p":"A","g":"SP","v":9.8},
{"p":"B","g":"AL","v":6150},{"p":"B","g":"AL","v":4100},{"p":"B","g":"AL","v":3000},{"p":"B","g":"AL","v":2600},{"p":"B","g":"AL","v":2300},{"p":"B","g":"AL","v":2000},{"p":"B","g":"AL","v":1800},{"p":"B","g":"AL","v":1600},{"p":"B","g":"AL","v":1400},{"p":"B","g":"AL","v":1200},{"p":"B","g":"AL","v":1000},{"p":"B","g":"AL","v":850},{"p":"B","g":"AL","v":700},{"p":"B","g":"AL","v":600},{"p":"B","g":"AL","v":500},{"p":"B","g":"AL","v":420},{"p":"B","g":"AL","v":350},{"p":"B","g":"AL","v":300},{"p":"B","g":"AL","v":250},{"p":"B","g":"AL","v":210},{"p":"B","g":"AL","v":180},{"p":"B","g":"AL","v":150},{"p":"B","g":"AL","v":130},{"p":"B","g":"AL","v":110},{"p":"B","g":"AL","v":95},{"p":"B","g":"AL","v":80},{"p":"B","g":"AL","v":70},{"p":"B","g":"AL","v":60},{"p":"B","g":"AL","v":52},{"p":"B","g":"AL","v":45},
{"p":"B","g":"AP","v":3880},{"p":"B","g":"AP","v":3500},{"p":"B","g":"AP","v":2500},{"p":"B","g":"AP","v":2000},{"p":"B","g":"AP","v":1700},{"p":"B","g":"AP","v":1500},{"p":"B","g":"AP","v":1300},{"p":"B","g":"AP","v":1150},{"p":"B","g":"AP","v":1000},{"p":"B","g":"AP","v":880},{"p":"B","g":"AP","v":760},{"p":"B","g":"AP","v":650},{"p":"B","g":"AP","v":560},{"p":"B","g":"AP","v":480},{"p":"B","g":"AP","v":430},{"p":"B","g":"AP","v":380},{"p":"B","g":"AP","v":330},{"p":"B","g":"AP","v":280},{"p":"B","g":"AP","v":240},{"p":"B","g":"AP","v":200},{"p":"B","g":"AP","v":170},{"p":"B","g":"AP","v":140},{"p":"B","g":"AP","v":120},{"p":"B","g":"AP","v":100},{"p":"B","g":"AP","v":60},{"p":"B","g":"AP","v":55},{"p":"B","g":"AP","v":48},{"p":"B","g":"AP","v":45},
{"p":"B","g":"AS","v":3370},{"p":"B","g":"AS","v":3200},{"p":"B","g":"AS","v":2900},{"p":"B","g":"AS","v":2500},{"p":"B","g":"AS","v":2200},{"p":"B","g":"AS","v":1900},{"p":"B","g":"AS","v":1700},{"p":"B","g":"AS","v":1500},{"p":"B","g":"AS","v":1300},{"p":"B","g":"AS","v":1150},{"p":"B","g":"AS","v":1000},{"p":"B","g":"AS","v":900},{"p":"B","g":"AS","v":800},{"p":"B","g":"AS","v":700},{"p":"B","g":"AS","v":600},{"p":"B","g":"AS","v":500},{"p":"B","g":"AS","v":420},{"p":"B","g":"AS","v":350},{"p":"B","g":"AS","v":290},{"p":"B","g":"AS","v":240},{"p":"B","g":"AS","v":200},{"p":"B","g":"AS","v":160},{"p":"B","g":"AS","v":140},{"p":"B","g":"AS","v":120},{"p":"B","g":"AS","v":100},{"p":"B","g":"AS","v":85},{"p":"B","g":"AS","v":75},{"p":"B","g":"AS","v":65},
{"p":"B","g":"ASPL","v":5000},{"p":"B","g":"ASPL","v":4500},{"p":"B","g":"ASPL","v":4000},{"p":"B","g":"ASPL","v":3500},{"p":"B","g":"ASPL","v":3000},{"p":"B","g":"ASPL","v":2600},{"p":"B","g":"ASPL","v":2200},{"p":"B","g":"ASPL","v":1900},{"p":"B","g":"ASPL","v":1600},{"p":"B","g":"ASPL","v":1400},{"p":"B","g":"ASPL","v":1200},{"p":"B","g":"ASPL","v":1100},{"p":"B","g":"ASPL","v":1000},{"p":"B","g":"ASPL","v":900},{"p":"B","g":"ASPL","v":800},{"p":"B","g":"ASPL","v":720},{"p":"B","g":"ASPL","v":650},{"p":"B","g":"ASPL","v":580},{"p":"B","g":"ASPL","v":500},{"p":"B","g":"ASPL","v":430},{"p":"B","g":"ASPL","v":380},{"p":"B","g":"ASPL","v":330},{"p":"B","g":"ASPL","v":290},{"p":"B","g":"ASPL","v":250},{"p":"B","g":"ASPL","v":220},{"p":"B","g":"ASPL","v":190},
{"p":"B","g":"PL","v":2890},{"p":"B","g":"PL","v":640},{"p":"B","g":"PL","v":600},{"p":"B","g":"PL","v":540},{"p":"B","g":"PL","v":480},{"p":"B","g":"PL","v":420},{"p":"B","g":"PL","v":370},{"p":"B","g":"PL","v":320},{"p":"B","g":"PL","v":280},{"p":"B","g":"PL","v":240},{"p":"B","g":"PL","v":210},{"p":"B","g":"PL","v":180},{"p":"B","g":"PL","v":150},{"p":"B","g":"PL","v":130},{"p":"B","g":"PL","v":110},{"p":"B","g":"PL","v":95},{"p":"B","g":"PL","v":80},{"p":"B","g":"PL","v":70},{"p":"B","g":"PL","v":60},{"p":"B","g":"PL","v":52},{"p":"B","g":"PL","v":45},{"p":"B","g":"PL","v":40},{"p":"B","g":"PL","v":35},{"p":"B","g":"PL","v":30},{"p":"B","g":"PL","v":26},{"p":"B","g":"PL","v":22},{"p":"B","g":"PL","v":18},
{"p":"B","g":"SL","v":3660},{"p":"B","g":"SL","v":3200},{"p":"B","g":"SL","v":2000},{"p":"B","g":"SL","v":1800},{"p":"B","g":"SL","v":1500},{"p":"B","g":"SL","v":1300},{"p":"B","g":"SL","v":1100},{"p":"B","g":"SL","v":950},{"p":"B","g":"SL","v":800},{"p":"B","g":"SL","v":700},{"p":"B","g":"SL","v":600},{"p":"B","g":"SL","v":520},{"p":"B","g":"SL","v":450},{"p":"B","g":"SL","v":380},{"p":"B","g":"SL","v":330},{"p":"B","g":"SL","v":280},{"p":"B","g":"SL","v":240},{"p":"B","g":"SL","v":200},{"p":"B","g":"SL","v":170},{"p":"B","g":"SL","v":140},{"p":"B","g":"SL","v":120},{"p":"B","g":"SL","v":100},{"p":"B","g":"SL","v":85},{"p":"B","g":"SL","v":72},{"p":"B","g":"SL","v":60},{"p":"B","g":"SL","v":50},{"p":"B","g":"SL","v":42},{"p":"B","g":"SL","v":35},{"p":"B","g":"SL","v":29},
{"p":"B","g":"SP","v":2760},{"p":"B","g":"SP","v":2600},{"p":"B","g":"SP","v":2400},{"p":"B","g":"SP","v":2100},{"p":"B","g":"SP","v":1800},{"p":"B","g":"SP","v":1600},{"p":"B","g":"SP","v":1400},{"p":"B","g":"SP","v":1200},{"p":"B","g":"SP","v":1050},{"p":"B","g":"SP","v":900},{"p":"B","g":"SP","v":800},{"p":"B","g":"SP","v":700},{"p":"B","g":"SP","v":600},{"p":"B","g":"SP","v":520},{"p":"B","g":"SP","v":450},{"p":"B","g":"SP","v":380},{"p":"B","g":"SP","v":320},{"p":"B","g":"SP","v":270},{"p":"B","g":"SP","v":230},{"p":"B","g":"SP","v":200},{"p":"B","g":"SP","v":170},{"p":"B","g":"SP","v":140},{"p":"B","g":"SP","v":120},{"p":"B","g":"SP","v":100},{"p":"B","g":"SP","v":70},{"p":"B","g":"SP","v":65},{"p":"B","g":"SP","v":45},{"p":"B","g":"SP","v":40},
{"p":"C","g":"AL","v":538},{"p":"C","g":"AL","v":480},{"p":"C","g":"AL","v":420},{"p":"C","g":"AL","v":330},{"p":"C","g":"AL","v":270},{"p":"C","g":"AL","v":220},{"p":"C","g":"AL","v":180},{"p":"C","g":"AL","v":160},{"p":"C","g":"AL","v":130},{"p":"C","g":"AL","v":110},{"p":"C","g":"AL","v":95},{"p":"C","g":"AL","v":80},{"p":"C","g":"AL","v":72},{"p":"C","g":"AL","v":66},{"p":"C","g":"AL","v":58},{"p":"C","g":"AL","v":52},{"p":"C","g":"AL","v":47},{"p":"C","g":"AL","v":42},{"p":"C","g":"AL","v":38},{"p":"C","g":"AL","v":34},{"p":"C","g":"AL","v":30},{"p":"C","g":"AL","v":27},{"p":"C","g":"AL","v":24},{"p":"C","g":"AL","v":22},{"p":"C","g":"AL","v":20},{"p":"C","g":"AL","v":18},{"p":"C","g":"AL","v":16},{"p":"C","g":"AL","v":14},{"p":"C","g":"AL","v":12},{"p":"C","g":"AL","v":10},{"p":"C","g":"AL","v":9},{"p":"C","g":"AL","v":2.07},
{"p":"C","g":"AP","v":2410},{"p":"C","g":"AP","v":2200},{"p":"C","g":"AP","v":1500},{"p":"C","g":"AP","v":1200},{"p":"C","g":"AP","v":950},{"p":"C","g":"AP","v":800},{"p":"C","g":"AP","v":650},{"p":"C","g":"AP","v":550},{"p":"C","g":"AP","v":470},{"p":"C","g":"AP","v":400},{"p":"C","g":"AP","v":340},{"p":"C","g":"AP","v":300},{"p":"C","g":"AP","v":260},{"p":"C","g":"AP","v":220},{"p":"C","g":"AP","v":190},{"p":"C","g":"AP","v":160},{"p":"C","g":"AP","v":130},{"p":"C","g":"AP","v":110},{"p":"C","g":"AP","v":70},{"p":"C","g":"AP","v":62},{"p":"C","g":"AP","v":55},{"p":"C","g":"AP","v":48},{"p":"C","g":"AP","v":42},{"p":"C","g":"AP","v":38},{"p":"C","g":"AP","v":34},{"p":"C","g":"AP","v":18},{"p":"C","g":"AP","v":15},{"p":"C","g":"AP","v":13},{"p":"C","g":"AP","v":8.2},
{"p":"C","g":"AS","v":3910},{"p":"C","g":"AS","v":3500},{"p":"C","g":"AS","v":3000},{"p":"C","g":"AS","v":2600},{"p":"C","g":"AS","v":2200},{"p":"C","g":"AS","v":1900},{"p":"C","g":"AS","v":1600},{"p":"C","g":"AS","v":1400},{"p":"C","g":"AS","v":1200},{"p":"C","g":"AS","v":1050},{"p":"C","g":"AS","v":900},{"p":"C","g":"AS","v":800},{"p":"C","g":"AS","v":700},{"p":"C","g":"AS","v":600},{"p":"C","g":"AS","v":520},{"p":"C","g":"AS","v":450},{"p":"C","g":"AS","v":380},{"p":"C","g":"AS","v":320},{"p":"C","g":"AS","v":270},{"p":"C","g":"AS","v":220},{"p":"C","g":"AS","v":180},{"p":"C","g":"AS","v":150},{"p":"C","g":"AS","v":120},{"p":"C","g":"AS","v":100},{"p":"C","g":"AS","v":80},{"p":"C","g":"AS","v":60},{"p":"C","g":"AS","v":45},{"p":"C","g":"AS","v":18.5},
{"p":"C","g":"ASPL","v":2770},{"p":"C","g":"ASPL","v":2500},{"p":"C","g":"ASPL","v":2200},{"p":"C","g":"ASPL","v":1900},{"p":"C","g":"ASPL","v":1700},{"p":"C","g":"ASPL","v":1500},{"p":"C","g":"ASPL","v":1300},{"p":"C","g":"ASPL","v":1150},{"p":"C","g":"ASPL","v":1000},{"p":"C","g":"ASPL","v":880},{"p":"C","g":"ASPL","v":780},{"p":"C","g":"ASPL","v":680},{"p":"C","g":"ASPL","v":600},{"p":"C","g":"ASPL","v":520},{"p":"C","g":"ASPL","v":450},{"p":"C","g":"ASPL","v":390},{"p":"C","g":"ASPL","v":340},{"p":"C","g":"ASPL","v":290},{"p":"C","g":"ASPL","v":250},{"p":"C","g":"ASPL","v":210},{"p":"C","g":"ASPL","v":180},{"p":"C","g":"ASPL","v":150},{"p":"C","g":"ASPL","v":130},{"p":"C","g":"ASPL","v":100},{"p":"C","g":"ASPL","v":55},{"p":"C","g":"ASPL","v":45},{"p":"C","g":"ASPL","v":35},{"p":"C","g":"ASPL","v":30},{"p":"C","g":"ASPL","v":25},
{"p":"C","g":"PL","v":3990},{"p":"C","g":"PL","v":1400},{"p":"C","g":"PL","v":1200},{"p":"C","g":"PL","v":1000},{"p":"C","g":"PL","v":850},{"p":"C","g":"PL","v":750},{"p":"C","g":"PL","v":650},{"p":"C","g":"PL","v":560},{"p":"C","g":"PL","v":480},{"p":"C","g":"PL","v":420},{"p":"C","g":"PL","v":360},{"p":"C","g":"PL","v":310},{"p":"C","g":"PL","v":270},{"p":"C","g":"PL","v":230},{"p":"C","g":"PL","v":200},{"p":"C","g":"PL","v":170},{"p":"C","g":"PL","v":150},{"p":"C","g":"PL","v":130},{"p":"C","g":"PL","v":110},{"p":"C","g":"PL","v":95},{"p":"C","g":"PL","v":80},{"p":"C","g":"PL","v":70},{"p":"C","g":"PL","v":60},{"p":"C","g":"PL","v":52},{"p":"C","g":"PL","v":46},{"p":"C","g":"PL","v":42},{"p":"C","g":"PL","v":39},
{"p":"C","g":"SL","v":7820},{"p":"C","g":"SL","v":5000},{"p":"C","g":"SL","v":4000},{"p":"C","g":"SL","v":3300},{"p":"C","g":"SL","v":2800},{"p":"C","g":"SL","v":2200},{"p":"C","g":"SL","v":1800},{"p":"C","g":"SL","v":1500},{"p":"C","g":"SL","v":1250},{"p":"C","g":"SL","v":1050},{"p":"C","g":"SL","v":900},{"p":"C","g":"SL","v":780},{"p":"C","g":"SL","v":680},{"p":"C","g":"SL","v":580},{"p":"C","g":"SL","v":500},{"p":"C","g":"SL","v":430},{"p":"C","g":"SL","v":370},{"p":"C","g":"SL","v":320},{"p":"C","g":"SL","v":270},{"p":"C","g":"SL","v":220},{"p":"C","g":"SL","v":190},{"p":"C","g":"SL","v":160},{"p":"C","g":"SL","v":130},{"p":"C","g":"SL","v":95},{"p":"C","g":"SL","v":60},{"p":"C","g":"SL","v":45},{"p":"C","g":"SL","v":35},{"p":"C","g":"SL","v":28},{"p":"C","g":"SL","v":22},{"p":"C","g":"SL","v":18},
{"p":"C","g":"SP","v":3090},{"p":"C","g":"SP","v":2800},{"p":"C","g":"SP","v":2500},{"p":"C","g":"SP","v":2200},{"p":"C","g":"SP","v":1900},{"p":"C","g":"SP","v":1700},{"p":"C","g":"SP","v":1500},{"p":"C","g":"SP","v":1300},{"p":"C","g":"SP","v":1150},{"p":"C","g":"SP","v":1000},{"p":"C","g":"SP","v":880},{"p":"C","g":"SP","v":780},{"p":"C","g":"SP","v":680},{"p":"C","g":"SP","v":580},{"p":"C","g":"SP","v":500},{"p":"C","g":"SP","v":400},{"p":"C","g":"SP","v":330},{"p":"C","g":"SP","v":270},{"p":"C","g":"SP","v":220},{"p":"C","g":"SP","v":180},{"p":"C","g":"SP","v":150},{"p":"C","g":"SP","v":120},{"p":"C","g":"SP","v":100},{"p":"C","g":"SP","v":80},{"p":"C","g":"SP","v":60},{"p":"C","g":"SP","v":45},{"p":"C","g":"SP","v":30},{"p":"C","g":"SP","v":22},{"p":"C","g":"SP","v":18.6},
{"p":"D","g":"AL","v":3660},{"p":"D","g":"AL","v":1400},{"p":"D","g":"AL","v":1200},{"p":"D","g":"AL","v":1000},{"p":"D","g":"AL","v":800},{"p":"D","g":"AL","v":650},{"p":"D","g":"AL","v":560},{"p":"D","g":"AL","v":480},{"p":"D","g":"AL","v":420},{"p":"D","g":"AL","v":360},{"p":"D","g":"AL","v":310},{"p":"D","g":"AL","v":270},{"p":"D","g":"AL","v":230},{"p":"D","g":"AL","v":200},{"p":"D","g":"AL","v":180},{"p":"D","g":"AL","v":160},{"p":"D","g":"AL","v":140},{"p":"D","g":"AL","v":120},{"p":"D","g":"AL","v":105},{"p":"D","g":"AL","v":90},{"p":"D","g":"AL","v":75},{"p":"D","g":"AL","v":65},{"p":"D","g":"AL","v":55},{"p":"D","g":"AL","v":48},{"p":"D","g":"AL","v":42},{"p":"D","g":"AL","v":30},{"p":"D","g":"AL","v":27},{"p":"D","g":"AL","v":24},{"p":"D","g":"AL","v":20},{"p":"D","g":"AL","v":10},{"p":"D","g":"AL","v":7.7},
{"p":"D","g":"AP","v":12800},{"p":"D","g":"AP","v":8500},{"p":"D","g":"AP","v":7500},{"p":"D","g":"AP","v":6500},{"p":"D","g":"AP","v":5500},{"p":"D","g":"AP","v":4800},{"p":"D","g":"AP","v":4000},{"p":"D","g":"AP","v":3400},{"p":"D","g":"AP","v":2800},{"p":"D","g":"AP","v":2400},{"p":"D","g":"AP","v":2000},{"p":"D","g":"AP","v":1700},{"p":"D","g":"AP","v":1400},{"p":"D","g":"AP","v":1200},{"p":"D","g":"AP","v":1000},{"p":"D","g":"AP","v":800},{"p":"D","g":"AP","v":650},{"p":"D","g":"AP","v":520},{"p":"D","g":"AP","v":420},{"p":"D","g":"AP","v":350},{"p":"D","g":"AP","v":290},{"p":"D","g":"AP","v":230},{"p":"D","g":"AP","v":190},{"p":"D","g":"AP","v":160},{"p":"D","g":"AP","v":85},{"p":"D","g":"AP","v":55},{"p":"D","g":"AP","v":50},{"p":"D","g":"AP","v":35},{"p":"D","g":"AP","v":25},{"p":"D","g":"AP","v":18.4},
{"p":"D","g":"AS","v":25300},{"p":"D","g":"AS","v":15000},{"p":"D","g":"AS","v":13000},{"p":"D","g":"AS","v":11000},{"p":"D","g":"AS","v":9500},{"p":"D","g":"AS","v":8000},{"p":"D","g":"AS","v":7000},{"p":"D","g":"AS","v":6000},{"p":"D","g":"AS","v":5200},{"p":"D","g":"AS","v":4500},{"p":"D","g":"AS","v":3800},{"p":"D","g":"AS","v":3200},{"p":"D","g":"AS","v":2700},{"p":"D","g":"AS","v":2300},{"p":"D","g":"AS","v":1900},{"p":"D","g":"AS","v":1600},{"p":"D","g":"AS","v":1300},{"p":"D","g":"AS","v":1100},{"p":"D","g":"AS","v":900},{"p":"D","g":"AS","v":700},{"p":"D","g":"AS","v":550},{"p":"D","g":"AS","v":430},{"p":"D","g":"AS","v":330},{"p":"D","g":"AS","v":250},{"p":"D","g":"AS","v":180},{"p":"D","g":"AS","v":140},{"p":"D","g":"AS","v":110},{"p":"D","g":"AS","v":95},{"p":"D","g":"AS","v":85},{"p":"D","g":"AS","v":34},{"p":"D","g":"AS","v":3.4},
{"p":"D","g":"ASPL","v":12800},{"p":"D","g":"ASPL","v":11000},{"p":"D","g":"ASPL","v":10000},{"p":"D","g":"ASPL","v":9000},{"p":"D","g":"ASPL","v":8000},{"p":"D","g":"ASPL","v":7000},{"p":"D","g":"ASPL","v":6200},{"p":"D","g":"ASPL","v":5500},{"p":"D","g":"ASPL","v":4800},{"p":"D","g":"ASPL","v":4200},{"p":"D","g":"ASPL","v":3700},{"p":"D","g":"ASPL","v":3200},{"p":"D","g":"ASPL","v":2800},{"p":"D","g":"ASPL","v":2400},{"p":"D","g":"ASPL","v":2100},{"p":"D","g":"ASPL","v":1800},{"p":"D","g":"ASPL","v":1500},{"p":"D","g":"ASPL","v":1300},{"p":"D","g":"ASPL","v":1100},{"p":"D","g":"ASPL","v":950},{"p":"D","g":"ASPL","v":800},{"p":"D","g":"ASPL","v":650},{"p":"D","g":"ASPL","v":550},{"p":"D","g":"ASPL","v":480},{"p":"D","g":"ASPL","v":420},{"p":"D","g":"ASPL","v":350},{"p":"D","g":"ASPL","v":300},{"p":"D","g":"ASPL","v":75},{"p":"D","g":"ASPL","v":34},
{"p":"D","g":"PL","v":18900},{"p":"D","g":"PL","v":17000},{"p":"D","g":"PL","v":13000},{"p":"D","g":"PL","v":10500},{"p":"D","g":"PL","v":9000},{"p":"D","g":"PL","v":7800},{"p":"D","g":"PL","v":6500},{"p":"D","g":"PL","v":5500},{"p":"D","g":"PL","v":4600},{"p":"D","g":"PL","v":3900},{"p":"D","g":"PL","v":3300},{"p":"D","g":"PL","v":2800},{"p":"D","g":"PL","v":2300},{"p":"D","g":"PL","v":1900},{"p":"D","g":"PL","v":1600},{"p":"D","g":"PL","v":1300},{"p":"D","g":"PL","v":1100},{"p":"D","g":"PL","v":900},{"p":"D","g":"PL","v":750},{"p":"D","g":"PL","v":620},{"p":"D","g":"PL","v":500},{"p":"D","g":"PL","v":420},{"p":"D","g":"PL","v":340},{"p":"D","g":"PL","v":280},{"p":"D","g":"PL","v":220},{"p":"D","g":"PL","v":170},{"p":"D","g":"PL","v":130},{"p":"D","g":"PL","v":100},{"p":"D","g":"PL","v":80},{"p":"D","g":"PL","v":60},{"p":"D","g":"PL","v":45},{"p":"D","g":"PL","v":40},{"p":"D","g":"PL","v":30},{"p":"D","g":"PL","v":25},{"p":"D","g":"PL","v":20},
{"p":"D","g":"SL","v":32700},{"p":"D","g":"SL","v":25000},{"p":"D","g":"SL","v":20000},{"p":"D","g":"SL","v":15000},{"p":"D","g":"SL","v":12000},{"p":"D","g":"SL","v":10000},{"p":"D","g":"SL","v":8000},{"p":"D","g":"SL","v":5000},{"p":"D","g":"SL","v":4500},{"p":"D","g":"SL","v":4000},{"p":"D","g":"SL","v":3500},{"p":"D","g":"SL","v":3000},{"p":"D","g":"SL","v":2600},{"p":"D","g":"SL","v":2200},{"p":"D","g":"SL","v":1900},{"p":"D","g":"SL","v":1600},{"p":"D","g":"SL","v":1400},{"p":"D","g":"SL","v":1200},{"p":"D","g":"SL","v":1000},{"p":"D","g":"SL","v":850},{"p":"D","g":"SL","v":700},{"p":"D","g":"SL","v":600},{"p":"D","g":"SL","v":500},{"p":"D","g":"SL","v":450},{"p":"D","g":"SL","v":200},{"p":"D","g":"SL","v":170},{"p":"D","g":"SL","v":150},{"p":"D","g":"SL","v":130},{"p":"D","g":"SL","v":100},{"p":"D","g":"SL","v":80},
{"p":"D","g":"SP","v":28700},{"p":"D","g":"SP","v":11000},{"p":"D","g":"SP","v":10000},{"p":"D","g":"SP","v":9000},{"p":"D","g":"SP","v":8000},{"p":"D","g":"SP","v":7000},{"p":"D","g":"SP","v":6000},{"p":"D","g":"SP","v":5200},{"p":"D","g":"SP","v":4500},{"p":"D","g":"SP","v":3800},{"p":"D","g":"SP","v":3200},{"p":"D","g":"SP","v":2700},{"p":"D","g":"SP","v":2300},{"p":"D","g":"SP","v":2000},{"p":"D","g":"SP","v":1700},{"p":"D","g":"SP","v":1400},{"p":"D","g":"SP","v":1200},{"p":"D","g":"SP","v":1000},{"p":"D","g":"SP","v":850},{"p":"D","g":"SP","v":700},{"p":"D","g":"SP","v":600},{"p":"D","g":"SP","v":500},{"p":"D","g":"SP","v":450},{"p":"D","g":"SP","v":400},{"p":"D","g":"SP","v":350},{"p":"D","g":"SP","v":300},{"p":"D","g":"SP","v":65},{"p":"D","g":"SP","v":9.3}
]
},
"hconcat": [
{
 "width": 377, "height": 748,
 "title": {"text": "A) 30 dias", "anchor": "start", "frame": "group", "dx": 20.5, "offset": -38, "baseline": "alphabetic", "font": "Open Sans", "fontSize": 42, "fontWeight": "normal", "color": "#000000"},
 "layer": [
  {"data": {"name": "pts"}, "transform": [{"filter": "datum.p == 'A'"}],
   "mark": {"type": "point", "filled": false, "size": 81, "strokeWidth": 1.4, "opacity": 0.8},
   "encoding": {
    "x": {"field": "g", "type": "nominal", "scale": {"domain": ["AL","AP","AS","ASPL","PL","SL","SP"], "paddingInner": 0, "paddingOuter": 0.1}, "axis": {"title": null, "labelAngle": 0, "labelPadding": 3}},
    "y": {"field": "v", "type": "quantitative", "scale": {"type": "log", "domain": [0.556, 180700], "nice": false}, "axis": {"values": [10, 100, 1000, 10000], "format": "d", "labelPadding": 7, "title": "BA at ground level (mm²)", "titleX": -81.5, "titleY": 446.7, "titleAngle": 270, "titleBaseline": "alphabetic", "titleAlign": "center"}},
    "stroke": {"field": "g", "type": "nominal", "scale": {"domain": ["SP","SL","PL","ASPL","AS","AP","AL"], "range": ["#FB61D7","#A58AFF","#00B6EB","#00C094","#53B400","#C49A00","#F8766D"]}, "legend": null}
   }},
  {"data": {"name": "vio"}, "transform": [{"filter": "datum.p == 'A'"}],
   "mark": {"type": "line", "interpolate": "cardinal-closed", "color": "#222222", "strokeWidth": 2},
   "encoding": {
    "x": {"field": "g", "type": "nominal", "scale": {"domain": ["AL","AP","AS","ASPL","PL","SL","SP"], "paddingInner": 0, "paddingOuter": 0.1}, "axis": {"title": null, "labelAngle": 0, "labelPadding": 3}},
    "xOffset": {"field": "w", "type": "quantitative", "scale": {"domain": [-1, 1], "range": [0, 52.36]}},
    "y": {"field": "v", "type": "quantitative", "scale": {"type": "log", "domain": [0.556, 180700], "nice": false}, "axis": {"values": [10, 100, 1000, 10000], "format": "d", "labelPadding": 7, "title": "BA at ground level (mm²)", "titleX": -81.5, "titleY": 446.7, "titleAngle": 270, "titleBaseline": "alphabetic", "titleAlign": "center"}},
    "detail": {"field": "g"},
    "order": {"value": null}
   }},
  {"data": {"name": "mean"}, "transform": [{"filter": "datum.p == 'A'"}],
   "mark": {"type": "circle", "size": 4, "opacity": 1},
   "encoding": {
    "x": {"field": "g", "type": "nominal", "scale": {"domain": ["AL","AP","AS","ASPL","PL","SL","SP"], "paddingInner": 0, "paddingOuter": 0.1}, "axis": {"title": null, "labelAngle": 0, "labelPadding": 3}},
    "y": {"field": "v", "type": "quantitative", "scale": {"type": "log", "domain": [0.556, 180700], "nice": false}, "axis": {"values": [10, 100, 1000, 10000], "format": "d", "labelPadding": 7, "title": "BA at ground level (mm²)", "titleX": -81.5, "titleY": 446.7, "titleAngle": 270, "titleBaseline": "alphabetic", "titleAlign": "center"}},
    "color": {"field": "g", "type": "nominal", "scale": {"domain": ["AL","AP","AS","ASPL","PL","SL","SP"], "range": ["#F8766D","#C49A00","#53B400","#00C094","#00B6EB","#A58AFF","#FB61D7"]},
     "legend": {"orient": "none", "legendX": 374, "legendY": 874.5, "direction": "horizontal", "columns": 7, "title": null, "padding": 0, "symbolType": "circle", "symbolSize": 1369, "symbolOpacity": 1, "symbolStrokeWidth": 0, "labelFont": "Open Sans", "labelFontSize": 22, "labelColor": "#000000", "labelOffset": 5, "columnPadding": 45}}
   }},
  {"data": {"name": "mean"}, "transform": [{"filter": "datum.p == 'A'"}],
   "mark": {"type": "circle", "size": 70, "color": "#000000", "opacity": 1},
   "encoding": {
    "x": {"field": "g", "type": "nominal", "scale": {"domain": ["AL","AP","AS","ASPL","PL","SL","SP"], "paddingInner": 0, "paddingOuter": 0.1}, "axis": {"title": null, "labelAngle": 0, "labelPadding": 3}},
    "y": {"field": "v", "type": "quantitative", "scale": {"type": "log", "domain": [0.556, 180700], "nice": false}, "axis": {"values": [10, 100, 1000, 10000], "format": "d", "labelPadding": 7, "title": "BA at ground level (mm²)", "titleX": -81.5, "titleY": 446.7, "titleAngle": 270, "titleBaseline": "alphabetic", "titleAlign": "center"}}
   }}
 ]
},
{
 "width": 377, "height": 748,
 "title": {"text": "B) 90 dias", "anchor": "start", "frame": "group", "dx": 20.5, "offset": -38, "baseline": "alphabetic", "font": "Open Sans", "fontSize": 42, "fontWeight": "normal", "color": "#000000"},
 "layer": [
  {"data": {"name": "pts"}, "transform": [{"filter": "datum.p == 'B'"}],
   "mark": {"type": "point", "filled": false, "size": 81, "strokeWidth": 1.4, "opacity": 0.8},
   "encoding": {
    "x": {"field": "g", "type": "nominal", "scale": {"domain": ["AL","AP","AS","ASPL","PL","SL","SP"], "paddingInner": 0, "paddingOuter": 0.1}, "axis": {"title": "Functional treatment", "labelAngle": 0, "labelPadding": 3, "titleX": 343.5, "titleY": 108.4, "titleBaseline": "alphabetic", "titleAlign": "center"}},
    "y": {"field": "v", "type": "quantitative", "scale": {"type": "log", "domain": [0.556, 180700], "nice": false}, "axis": {"values": [10, 100, 1000, 10000], "labels": false, "title": null}},
    "stroke": {"field": "g", "type": "nominal", "scale": {"domain": ["SP","SL","PL","ASPL","AS","AP","AL"], "range": ["#FB61D7","#A58AFF","#00B6EB","#00C094","#53B400","#C49A00","#F8766D"]}, "legend": null}
   }},
  {"data": {"name": "vio"}, "transform": [{"filter": "datum.p == 'B'"}],
   "mark": {"type": "line", "interpolate": "cardinal-closed", "color": "#222222", "strokeWidth": 2},
   "encoding": {
    "x": {"field": "g", "type": "nominal", "scale": {"domain": ["AL","AP","AS","ASPL","PL","SL","SP"], "paddingInner": 0, "paddingOuter": 0.1}, "axis": {"title": "Functional treatment", "labelAngle": 0, "labelPadding": 3, "titleX": 343.5, "titleY": 108.4, "titleBaseline": "alphabetic", "titleAlign": "center"}},
    "xOffset": {"field": "w", "type": "quantitative", "scale": {"domain": [-1, 1], "range": [0, 52.36]}},
    "y": {"field": "v", "type": "quantitative", "scale": {"type": "log", "domain": [0.556, 180700], "nice": false}, "axis": {"values": [10, 100, 1000, 10000], "labels": false, "title": null}},
    "detail": {"field": "g"},
    "order": {"value": null}
   }},
  {"data": {"name": "mean"}, "transform": [{"filter": "datum.p == 'B'"}],
   "mark": {"type": "circle", "size": 4, "opacity": 1},
   "encoding": {
    "x": {"field": "g", "type": "nominal", "scale": {"domain": ["AL","AP","AS","ASPL","PL","SL","SP"], "paddingInner": 0, "paddingOuter": 0.1}, "axis": {"title": "Functional treatment", "labelAngle": 0, "labelPadding": 3, "titleX": 343.5, "titleY": 108.4, "titleBaseline": "alphabetic", "titleAlign": "center"}},
    "y": {"field": "v", "type": "quantitative", "scale": {"type": "log", "domain": [0.556, 180700], "nice": false}, "axis": {"values": [10, 100, 1000, 10000], "labels": false, "title": null}},
    "color": {"field": "g", "type": "nominal", "scale": {"domain": ["AL","AP","AS","ASPL","PL","SL","SP"], "range": ["#F8766D","#C49A00","#53B400","#00C094","#00B6EB","#A58AFF","#FB61D7"]}, "legend": null}
   }},
  {"data": {"name": "mean"}, "transform": [{"filter": "datum.p == 'B'"}],
   "mark": {"type": "circle", "size": 70, "color": "#000000", "opacity": 1},
   "encoding": {
    "x": {"field": "g", "type": "nominal", "scale": {"domain": ["AL","AP","AS","ASPL","PL","SL","SP"], "paddingInner": 0, "paddingOuter": 0.1}, "axis": {"title": "Functional treatment", "labelAngle": 0, "labelPadding": 3, "titleX": 343.5, "titleY": 108.4, "titleBaseline": "alphabetic", "titleAlign": "center"}},
    "y": {"field": "v", "type": "quantitative", "scale": {"type": "log", "domain": [0.556, 180700], "nice": false}, "axis": {"values": [10, 100, 1000, 10000], "labels": false, "title": null}}
   }}
 ]
},
{
 "width": 377, "height": 748,
 "title": {"text": "C) 180 dias", "anchor": "start", "frame": "group", "dx": 20.5, "offset": -38, "baseline": "alphabetic", "font": "Open Sans", "fontSize": 42, "fontWeight": "normal", "color": "#000000"},
 "layer": [
  {"data": {"name": "pts"}, "transform": [{"filter": "datum.p == 'C'"}],
   "mark": {"type": "point", "filled": false, "size": 81, "strokeWidth": 1.4, "opacity": 0.8},
   "encoding": {
    "x": {"field": "g", "type": "nominal", "scale": {"domain": ["AL","AP","AS","ASPL","PL","SL","SP"], "paddingInner": 0, "paddingOuter": 0.1}, "axis": {"title": null, "labelAngle": 0, "labelPadding": 3}},
    "y": {"field": "v", "type": "quantitative", "scale": {"type": "log", "domain": [0.556, 180700], "nice": false}, "axis": {"values": [10, 100, 1000, 10000], "labels": false, "title": null}},
    "stroke": {"field": "g", "type": "nominal", "scale": {"domain": ["SP","SL","PL","ASPL","AS","AP","AL"], "range": ["#FB61D7","#A58AFF","#00B6EB","#00C094","#53B400","#C49A00","#F8766D"]}, "legend": null}
   }},
  {"data": {"name": "vio"}, "transform": [{"filter": "datum.p == 'C'"}],
   "mark": {"type": "line", "interpolate": "cardinal-closed", "color": "#222222", "strokeWidth": 2},
   "encoding": {
    "x": {"field": "g", "type": "nominal", "scale": {"domain": ["AL","AP","AS","ASPL","PL","SL","SP"], "paddingInner": 0, "paddingOuter": 0.1}, "axis": {"title": null, "labelAngle": 0, "labelPadding": 3}},
    "xOffset": {"field": "w", "type": "quantitative", "scale": {"domain": [-1, 1], "range": [0, 52.36]}},
    "y": {"field": "v", "type": "quantitative", "scale": {"type": "log", "domain": [0.556, 180700], "nice": false}, "axis": {"values": [10, 100, 1000, 10000], "labels": false, "title": null}},
    "detail": {"field": "g"},
    "order": {"value": null}
   }},
  {"data": {"name": "mean"}, "transform": [{"filter": "datum.p == 'C'"}],
   "mark": {"type": "circle", "size": 4, "opacity": 1},
   "encoding": {
    "x": {"field": "g", "type": "nominal", "scale": {"domain": ["AL","AP","AS","ASPL","PL","SL","SP"], "paddingInner": 0, "paddingOuter": 0.1}, "axis": {"title": null, "labelAngle": 0, "labelPadding": 3}},
    "y": {"field": "v", "type": "quantitative", "scale": {"type": "log", "domain": [0.556, 180700], "nice": false}, "axis": {"values": [10, 100, 1000, 10000], "labels": false, "title": null}},
    "color": {"field": "g", "type": "nominal", "scale": {"domain": ["AL","AP","AS","ASPL","PL","SL","SP"], "range": ["#F8766D","#C49A00","#53B400","#00C094","#00B6EB","#A58AFF","#FB61D7"]}, "legend": null}
   }},
  {"data": {"name": "mean"}, "transform": [{"filter": "datum.p == 'C'"}],
   "mark": {"type": "circle", "size": 70, "color": "#000000", "opacity": 1},
   "encoding": {
    "x": {"field": "g", "type": "nominal", "scale": {"domain": ["AL","AP","AS","ASPL","PL","SL","SP"], "paddingInner": 0, "paddingOuter": 0.1}, "axis": {"title": null, "labelAngle": 0, "labelPadding": 3}},
    "y": {"field": "v", "type": "quantitative", "scale": {"type": "log", "domain": [0.556, 180700], "nice": false}, "axis": {"values": [10, 100, 1000, 10000], "labels": false, "title": null}}
   }}
 ]
},
{
 "width": 377, "height": 748,
 "title": {"text": "D) 450 dias", "anchor": "start", "frame": "group", "dx": 20.5, "offset": -38, "baseline": "alphabetic", "font": "Open Sans", "fontSize": 42, "fontWeight": "normal", "color": "#000000"},
 "layer": [
  {"data": {"name": "pts"}, "transform": [{"filter": "datum.p == 'D'"}],
   "mark": {"type": "point", "filled": false, "size": 81, "strokeWidth": 1.4, "opacity": 0.8},
   "encoding": {
    "x": {"field": "g", "type": "nominal", "scale": {"domain": ["AL","AP","AS","ASPL","PL","SL","SP"], "paddingInner": 0, "paddingOuter": 0.1}, "axis": {"title": null, "labelAngle": 0, "labelPadding": 3}},
    "y": {"field": "v", "type": "quantitative", "scale": {"type": "log", "domain": [0.556, 180700], "nice": false}, "axis": {"values": [10, 100, 1000, 10000], "labels": false, "title": null}},
    "stroke": {"field": "g", "type": "nominal", "scale": {"domain": ["SP","SL","PL","ASPL","AS","AP","AL"], "range": ["#FB61D7","#A58AFF","#00B6EB","#00C094","#53B400","#C49A00","#F8766D"]}, "legend": null}
   }},
  {"data": {"name": "vio"}, "transform": [{"filter": "datum.p == 'D'"}],
   "mark": {"type": "line", "interpolate": "cardinal-closed", "color": "#222222", "strokeWidth": 2},
   "encoding": {
    "x": {"field": "g", "type": "nominal", "scale": {"domain": ["AL","AP","AS","ASPL","PL","SL","SP"], "paddingInner": 0, "paddingOuter": 0.1}, "axis": {"title": null, "labelAngle": 0, "labelPadding": 3}},
    "xOffset": {"field": "w", "type": "quantitative", "scale": {"domain": [-1, 1], "range": [0, 52.36]}},
    "y": {"field": "v", "type": "quantitative", "scale": {"type": "log", "domain": [0.556, 180700], "nice": false}, "axis": {"values": [10, 100, 1000, 10000], "labels": false, "title": null}},
    "detail": {"field": "g"},
    "order": {"value": null}
   }},
  {"data": {"name": "mean"}, "transform": [{"filter": "datum.p == 'D'"}],
   "mark": {"type": "circle", "size": 4, "opacity": 1},
   "encoding": {
    "x": {"field": "g", "type": "nominal", "scale": {"domain": ["AL","AP","AS","ASPL","PL","SL","SP"], "paddingInner": 0, "paddingOuter": 0.1}, "axis": {"title": null, "labelAngle": 0, "labelPadding": 3}},
    "y": {"field": "v", "type": "quantitative", "scale": {"type": "log", "domain": [0.556, 180700], "nice": false}, "axis": {"values": [10, 100, 1000, 10000], "labels": false, "title": null}},
    "color": {"field": "g", "type": "nominal", "scale": {"domain": ["AL","AP","AS","ASPL","PL","SL","SP"], "range": ["#F8766D","#C49A00","#53B400","#00C094","#00B6EB","#A58AFF","#FB61D7"]}, "legend": null}
   }},
  {"data": {"name": "mean"}, "transform": [{"filter": "datum.p == 'D'"}],
   "mark": {"type": "circle", "size": 70, "color": "#000000", "opacity": 1},
   "encoding": {
    "x": {"field": "g", "type": "nominal", "scale": {"domain": ["AL","AP","AS","ASPL","PL","SL","SP"], "paddingInner": 0, "paddingOuter": 0.1}, "axis": {"title": null, "labelAngle": 0, "labelPadding": 3}},
    "y": {"field": "v", "type": "quantitative", "scale": {"type": "log", "domain": [0.556, 180700], "nice": false}, "axis": {"values": [10, 100, 1000, 10000], "labels": false, "title": null}}
   }}
 ]
}
],
"resolve": {"scale": {"color": "shared", "stroke": "shared", "x": "independent", "y": "independent", "xOffset": "independent"}}
}
